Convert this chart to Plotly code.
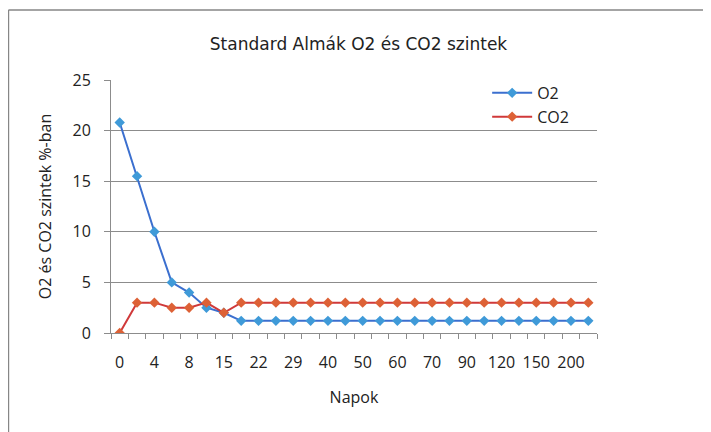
import plotly.graph_objects as go

days = ["0", "2", "4", "6", "8", "11", "15", "18", "22", "25", "29", "35", "40", "45",
        "50", "55", "60", "65", "70", "80", "90", "105", "120", "135", "150", "175", "200", "250"]
shown_labels = ["0", "4", "8", "15", "22", "29", "40", "50", "60", "70", "90", "120", "150", "200"]
o2 = [20.8, 15.5, 10, 5, 4, 2.5, 2, 1.2, 1.2, 1.2, 1.2, 1.2, 1.2, 1.2,
      1.2, 1.2, 1.2, 1.2, 1.2, 1.2, 1.2, 1.2, 1.2, 1.2, 1.2, 1.2, 1.2, 1.2]
co2 = [0, 3, 3, 2.5, 2.5, 3, 2, 3, 3, 3, 3, 3, 3, 3,
       3, 3, 3, 3, 3, 3, 3, 3, 3, 3, 3, 3, 3, 3]

ticktext = [d if d in shown_labels else "" for d in days]

fig = go.Figure()
fig.add_trace(go.Scatter(x=days, y=o2, name="O2", mode="lines+markers",
                         line=dict(color="#3b6fcf", width=2),
                         marker=dict(symbol="diamond", size=8, color="#3f9ad8")))
fig.add_trace(go.Scatter(x=days, y=co2, name="CO2", mode="lines+markers",
                         line=dict(color="#d0393a", width=2),
                         marker=dict(symbol="diamond", size=8, color="#dd6136")))

grid = "#8c8c8c"
fig.update_layout(
    width=711, height=432,
    margin=dict(l=103, r=122, t=72, b=107),
    paper_bgcolor="white", plot_bgcolor="white",
    font=dict(family="Open Sans", color="#222222"),
    title=dict(text="Standard Almák O2 és CO2 szintek", x=0.493, xanchor="center",
               y=0.9155, yanchor="middle", font=dict(family="DejaVu Sans", size=17)),
    showlegend=True,
    legend=dict(x=0.774, y=1.016, xanchor="left", yanchor="top", bgcolor="rgba(0,0,0,0)",
                font=dict(size=16), tracegroupgap=0, itemwidth=40),
    xaxis=dict(type="category", tickmode="array", tickvals=days, ticktext=ticktext,
               range=[-0.5, len(days) - 0.5],
               tickson="boundaries", ticks="outside", ticklen=5, tickcolor=grid,
               showline=True, linecolor=grid, linewidth=1, showgrid=False,
               tickfont=dict(size=16), tickangle=0, ticklabelstandoff=15,
               title=dict(text="Napok", font=dict(size=16), standoff=19)),
    yaxis=dict(range=[0, 25], dtick=5, ticks="outside", ticklen=6, tickcolor=grid,
               showline=True, linecolor=grid, linewidth=1, showgrid=True, gridcolor=grid,
               gridwidth=1, zeroline=False, tickfont=dict(size=16), ticklabelstandoff=10,
               title=dict(text="O2 és CO2 szintek %-ban", font=dict(size=16), standoff=16)),
)

# outer chart border (top and left edges visible)
fig.add_shape(type="line", xref="paper", yref="paper", x0=-0.211, x1=1.3, y0=1.277, y1=1.277,
              line=dict(color="#868686", width=1.5))
fig.add_shape(type="line", xref="paper", yref="paper", x0=-0.211, x1=-0.211, y0=1.277, y1=-0.5,
              line=dict(color="#868686", width=1.5))

fig.write_html("out.html")
